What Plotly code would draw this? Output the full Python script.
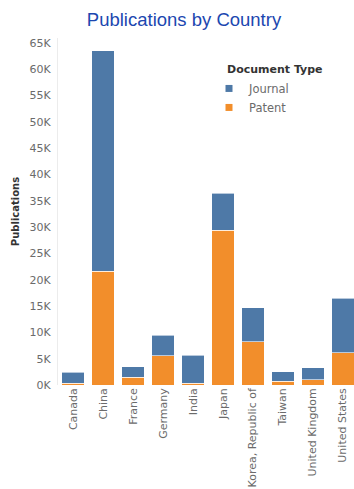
import plotly.graph_objects as go

# Publication counts by country, split by document type
countries = ["Canada", "China", "France", "Germany", "India", "Japan",
             "Korea, Republic of", "Taiwan", "United Kingdom", "United States"]
patent = [300, 21600, 1500, 5600, 300, 29400, 8250, 700, 1000, 6100]
journal = [2100, 41900, 2000, 3850, 5350, 7000, 6450, 1860, 2260, 10400]

tick_vals = [0, 5000, 10000, 15000, 20000, 25000, 30000, 35000, 40000,
             45000, 50000, 55000, 60000, 65000]
tick_text = ["0K", "5K", "10K", "15K", "20K", "25K", "30K", "35K", "40K",
             "45K", "50K", "55K", "60K", "65K"]

BLUE = "#4e79a7"
ORANGE = "#f28e2b"
SANS = "DejaVu Sans, Verdana, sans-serif"
TICK_FONT = dict(family=SANS, size=11, color="#6b6b6b")

# Plot area in pixels (used to place the legend in paper coordinates)
PLOT_L, PLOT_W = 58, 296
PLOT_T, PLOT_B = 38, 385.5


def px_x(px):
    return (px - PLOT_L) / PLOT_W


def px_y(py):
    return (PLOT_B - py) / (PLOT_B - PLOT_T)


fig = go.Figure()
fig.add_trace(go.Bar(
    x=countries, y=patent, name="Patent", showlegend=False,
    marker=dict(color=ORANGE, line=dict(color="white", width=0.6)),
))
fig.add_trace(go.Bar(
    x=countries, y=journal, name="Journal", showlegend=False,
    marker=dict(color=BLUE, line=dict(color="white", width=0.6)),
))

# Legend entries with small square swatches
for name, color in [("Journal", BLUE), ("Patent", ORANGE)]:
    fig.add_trace(go.Scatter(
        x=[None], y=[None], mode="markers", name=name,
        marker=dict(symbol="square", size=7, color=color),
    ))

fig.update_layout(
    width=354, height=489,
    barmode="stack", bargap=0.25,
    paper_bgcolor="white", plot_bgcolor="white",
    margin=dict(l=PLOT_L, r=0, t=PLOT_T, b=489 - PLOT_B),
    title=dict(
        text="Publications by Country",
        x=184 / 354, xanchor="center", y=1 - 20 / 489, yanchor="middle",
        font=dict(family="Liberation Sans, Arial, sans-serif", size=18.5, color="#1c47b0"),
    ),
    legend=dict(
        font=dict(family=SANS, size=11.5, color="#6b6b6b"),
        x=px_x(209), y=px_y(74), xanchor="left", yanchor="top",
        bgcolor="rgba(0,0,0,0)", itemwidth=30, traceorder="normal",
    ),
    showlegend=True,
    annotations=[dict(
        text="<b>Document Type</b>", xref="paper", yref="paper",
        x=px_x(225), y=px_y(70), xanchor="left", yanchor="middle",
        showarrow=False, font=dict(family=SANS, size=11, color="#333333"),
    )],
)

fig.update_xaxes(
    range=[-0.5, 9.37], tickangle=-90, tickfont=TICK_FONT,
    showgrid=False, showline=False, ticks="", zeroline=False,
)
fig.update_yaxes(
    range=[0, 65900], tickvals=tick_vals, ticktext=tick_text, tickfont=TICK_FONT,
    showgrid=False, zeroline=False, showline=True, linecolor="#ececec", linewidth=1,
    ticks="", ticklabelstandoff=4,
    title=dict(text="<b>Publications</b>", standoff=8,
               font=dict(family=SANS, size=10, color="#333333")),
)

fig.write_html("out.html")
